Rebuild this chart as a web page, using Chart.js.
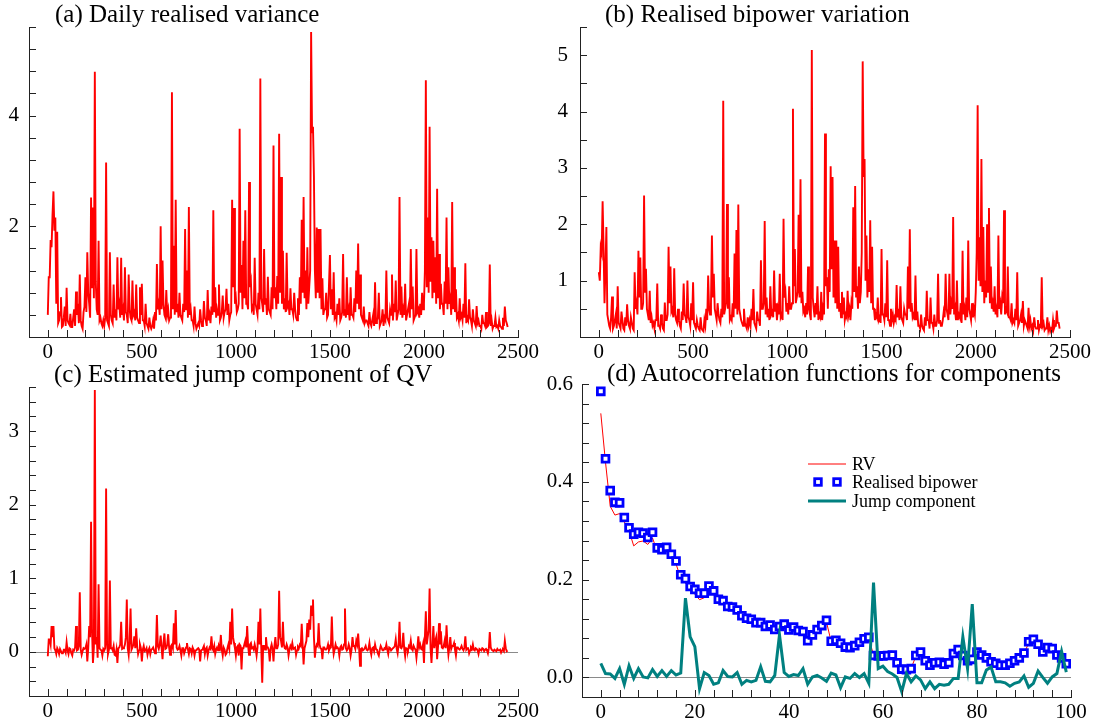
<!DOCTYPE html>
<html>
<head>
<meta charset="utf-8">
<script src="https://cdn.jsdelivr.net/npm/chart.js@4.4.1/dist/chart.umd.min.js"></script>
<style>
  body { margin: 0; background: #fff; width: 1097px; height: 728px; overflow: hidden; position: relative;
         font-family: "Liberation Serif", "DejaVu Serif", serif; color: #000; }
  canvas { position: absolute; }
  .title { position: absolute; font-size: 25px; line-height: 25px; white-space: nowrap; }
  .legend { position: absolute; left: 808px; top: 455px; font-size: 18px; line-height: 18.3px; }
  .legend div { display: flex; align-items: center; height: 18.3px; white-space: nowrap; }
  .legend svg { width: 44px; height: 18px; flex: none; }
</style>
</head>
<body>
<canvas id="chartRV" width="546" height="370" style="left:0;top:0"></canvas>
<canvas id="chartBV" width="546" height="370" style="left:551px;top:0"></canvas>
<canvas id="chartJump" width="546" height="369" style="left:0;top:360px"></canvas>
<canvas id="chartACF" width="570" height="370" style="left:525px;top:360px"></canvas>

<div class="title" style="left:55px;top:1px">(a) Daily realised variance</div>
<div class="title" style="left:605px;top:1px">(b) Realised bipower variation</div>
<div class="title" style="left:54px;top:361px">(c) Estimated jump component of QV</div>
<div class="title" style="left:607px;top:360px">(d) Autocorrelation functions for components</div>

<div class="legend">
  <div><svg viewBox="0 0 44 18"><line x1="0" y1="9" x2="38" y2="9" stroke="#ff0000" stroke-width="1"/></svg>RV</div>
  <div><svg viewBox="0 0 44 18"><rect x="6.7" y="5.7" width="6.6" height="6.6" fill="#fff" stroke="#0000ff" stroke-width="2.8"/><rect x="25.7" y="5.7" width="6.6" height="6.6" fill="#fff" stroke="#0000ff" stroke-width="2.8"/></svg>Realised bipower</div>
  <div><svg viewBox="0 0 44 18"><line x1="0" y1="9" x2="38" y2="9" stroke="#008080" stroke-width="3"/></svg>Jump component</div>
</div>

<script>
// trading days, one reading every 5 days (0, 5, 10, ... 2445)
const days = Array.from({length: 490}, (_, i) => i * 5);

// (a) daily realised variance: readings on days 0,10,20,... and on days 5,15,25,...
const rvEven = [
  0.4, 1.08, 1.62, 2.63, 2.16, 1.9, 0.3, 0.72, 0.2, 0.55,
  0.89, 0.25, 0.42, 0.18, 0.5, 0.82, 0.6, 1.13, 0.2, 0.45,
  1.08, 1.53, 0.6, 2.52, 2.34, 4.79, 0.5, 1.74, 0.35, 0.2,
  0.2, 3.15, 0.25, 1.53, 0.3, 0.95, 0.5, 1.44, 0.6, 1.43,
  0.5, 1.26, 0.4, 1.13, 0.35, 1.02, 0.45, 0.95, 0.3, 0.9,
  0.96, 0.3, 0.6, 0.2, 0.35, 0.15, 0.3, 0.45, 1.32, 0.6,
  2.0, 1.38, 0.4, 0.85, 0.5, 0.35, 4.42, 1.65, 2.48, 0.6,
  0.8, 0.35, 0.6, 1.95, 1.2, 2.35, 0.5, 0.3, 0.55, 0.15,
  0.25, 0.5, 0.2, 0.65, 0.3, 0.85, 0.4, 0.55, 2.29, 0.9,
  0.5, 0.95, 0.35, 0.75, 0.45, 0.87, 0.6, 0.4, 2.48, 2.33,
  0.7, 0.5, 3.76, 1.3, 1.74, 2.29, 0.6, 2.8, 1.0, 0.55,
  1.43, 0.5, 0.8, 4.67, 0.6, 1.59, 0.7, 1.09, 0.45, 0.9,
  3.46, 0.9, 1.1, 3.67, 2.89, 1.56, 0.7, 1.52, 0.6, 0.88,
  0.5, 0.8, 0.35, 0.7, 1.08, 2.12, 2.53, 1.2, 1.62, 0.9,
  5.51, 3.8, 1.2, 1.98, 1.95, 1.95, 1.06, 0.5, 0.8, 0.4,
  1.48, 0.86, 1.17, 0.4, 0.6, 0.7, 0.35, 1.5, 0.5, 1.08,
  0.5, 0.9, 0.4, 0.7, 1.2, 1.69, 1.13, 0.35, 0.55, 0.3,
  0.25, 0.45, 0.2, 0.4, 0.99, 0.3, 0.8, 0.25, 0.5, 0.35,
  1.2, 0.3, 0.5, 1.13, 0.6, 1.02, 0.4, 2.53, 0.91, 0.5,
  0.96, 0.4, 0.6, 1.59, 0.91, 0.35, 1.59, 0.5, 0.6, 0.8,
  0.6, 4.64, 2.16, 3.8, 1.8, 1.74, 1.44, 2.68, 1.5, 0.96,
  0.6, 1.0, 2.16, 1.26, 0.7, 2.44, 1.26, 0.86, 0.4, 0.7,
  0.4, 0.6, 1.33, 0.35, 0.68, 0.3, 0.5, 0.25, 0.56, 0.3,
  0.2, 0.4, 0.25, 0.45, 0.2, 1.31, 0.3, 0.2, 0.35, 0.2,
  0.3, 0.18, 0.35, 0.55, 0.25
];
const rvOdd = [
  1.08, 1.75, 2.2, 1.92, 0.6, 0.25, 0.45, 0.18, 0.35, 0.2,
  0.3, 0.22, 0.18, 0.35, 0.2, 0.4, 0.25, 0.3, 0.15, 0.55,
  0.45, 0.8, 0.35, 0.9, 0.7, 1.0, 0.4, 0.3, 0.25, 0.3,
  0.35, 0.3, 0.2, 0.4, 0.25, 0.35, 0.3, 0.5, 0.35, 0.4,
  0.3, 0.45, 0.25, 0.5, 0.3, 0.4, 0.3, 0.35, 0.25, 0.4,
  0.3, 0.2, 0.25, 0.15, 0.2, 0.2, 0.15, 0.3, 0.5, 0.4,
  0.5, 0.6, 0.35, 0.4, 0.3, 0.6, 0.5, 0.4, 0.45, 0.35,
  0.4, 0.3, 0.45, 0.5, 0.35, 0.4, 0.3, 0.2, 0.25, 0.2,
  0.2, 0.3, 0.25, 0.35, 0.2, 0.3, 0.25, 0.4, 0.45, 0.35,
  0.4, 0.3, 0.45, 0.35, 0.5, 0.4, 0.3, 0.45, 0.9, 0.6,
  0.45, 0.6, 0.8, 0.5, 0.7, 0.6, 0.5, 0.9, 0.5, 0.4,
  0.6, 0.4, 0.5, 0.7, 0.45, 0.6, 0.4, 0.5, 0.4, 0.5,
  0.7, 0.5, 0.6, 0.8, 0.6, 0.5, 0.45, 0.55, 0.4, 0.5,
  0.4, 0.5, 0.3, 0.4, 0.6, 0.8, 0.7, 0.5, 0.6, 1.2,
  3.7, 2.89, 0.7, 0.8, 0.7, 0.5, 0.4, 0.5, 0.35, 0.4,
  0.5, 0.4, 0.35, 0.3, 0.4, 0.3, 0.45, 0.4, 0.35, 0.4,
  0.3, 0.4, 0.35, 0.45, 0.6, 0.5, 0.4, 0.3, 0.25, 0.3,
  0.2, 0.25, 0.3, 0.2, 0.25, 0.35, 0.2, 0.3, 0.2, 0.3,
  0.35, 0.25, 0.4, 0.3, 0.45, 0.3, 0.5, 0.4, 0.35, 0.4,
  0.3, 0.4, 0.35, 0.5, 0.3, 0.4, 0.45, 0.35, 0.4, 0.5,
  1.2, 0.9, 0.8, 1.0, 0.7, 0.8, 0.6, 0.7, 0.5, 0.6,
  0.4, 0.6, 0.5, 0.6, 0.4, 0.5, 0.45, 0.35, 0.3, 0.35,
  0.3, 0.35, 0.25, 0.3, 0.35, 0.2, 0.3, 0.2, 0.25, 0.2,
  0.15, 0.25, 0.2, 0.18, 0.25, 0.2, 0.15, 0.2, 0.18, 0.15,
  0.2, 0.15, 0.2, 0.3, 0.18
];

// (b) realised bipower variation
const bvEven = [
  1.15, 1.59, 2.41, 0.6, 1.95, 0.3, 0.15, 0.72, 0.2, 0.4,
  0.9, 0.2, 0.45, 0.15, 0.35, 0.58, 0.2, 0.35, 0.15, 1.15,
  0.6, 1.53, 1.41, 0.5, 2.51, 1.21, 0.4, 0.82, 0.35, 0.25,
  0.3, 0.95, 0.2, 0.4, 0.15, 0.61, 0.3, 1.6, 1.25, 0.5,
  1.22, 0.3, 0.5, 0.2, 0.45, 0.95, 0.35, 1.0, 0.3, 0.6,
  0.97, 0.2, 0.3, 0.15, 0.35, 0.12, 0.3, 0.5, 1.09, 0.4,
  1.8, 1.12, 0.4, 0.6, 0.3, 0.5, 4.19, 0.5, 2.36, 1.06,
  0.35, 0.6, 1.48, 1.9, 2.35, 0.4, 0.25, 0.5, 0.2, 0.35,
  0.3, 0.5, 0.85, 0.2, 0.45, 0.3, 1.36, 0.5, 2.06, 0.7,
  0.5, 0.9, 0.45, 1.18, 0.6, 0.5, 1.12, 0.4, 2.1, 0.8,
  0.6, 0.9, 0.5, 4.05, 1.56, 0.7, 2.17, 2.8, 0.8, 0.5,
  0.6, 1.25, 0.4, 5.09, 0.5, 0.6, 0.9, 0.4, 0.8, 0.5,
  3.61, 1.06, 1.2, 3.03, 2.84, 1.71, 1.71, 1.6, 0.6, 0.8,
  0.7, 0.4, 0.82, 0.5, 0.6, 2.3, 2.68, 0.9, 1.25, 0.8,
  4.89, 3.16, 1.8, 1.2, 2.07, 1.6, 0.5, 0.4, 0.7, 0.35,
  1.56, 0.4, 0.6, 1.36, 0.3, 0.5, 0.4, 0.35, 0.92, 0.5,
  0.9, 0.3, 0.5, 0.4, 1.25, 1.91, 0.6, 0.4, 1.09, 0.45,
  0.2, 0.4, 0.15, 0.35, 0.82, 0.3, 0.7, 0.25, 0.4, 0.2,
  1.12, 0.3, 0.2, 0.45, 1.12, 0.4, 1.12, 0.6, 2.13, 0.5,
  1.0, 0.4, 0.6, 1.53, 0.5, 0.7, 1.71, 0.4, 0.6, 0.5,
  0.8, 4.11, 1.77, 3.16, 1.95, 1.0, 2.0, 2.29, 1.25, 0.6,
  0.9, 0.5, 1.8, 0.6, 0.7, 2.25, 0.5, 1.25, 0.35, 0.6,
  0.3, 0.5, 1.15, 0.25, 0.4, 0.64, 0.3, 0.2, 0.52, 0.3,
  0.2, 0.35, 0.15, 0.3, 0.2, 1.06, 0.25, 0.15, 0.35, 0.2,
  0.15, 0.3, 0.2, 0.47, 0.25
];
const bvOdd = [
  1.0, 1.5, 1.6, 1.2, 0.4, 0.2, 0.35, 0.15, 0.3, 0.15,
  0.25, 0.15, 0.3, 0.12, 0.2, 0.3, 0.15, 0.25, 0.12, 0.5,
  0.4, 0.7, 0.5, 0.6, 0.8, 0.5, 0.3, 0.25, 0.2, 0.15,
  0.3, 0.2, 0.15, 0.25, 0.12, 0.3, 0.4, 0.6, 0.45, 0.35,
  0.4, 0.25, 0.3, 0.15, 0.3, 0.4, 0.25, 0.35, 0.2, 0.3,
  0.25, 0.15, 0.2, 0.12, 0.15, 0.1, 0.2, 0.3, 0.5, 0.6,
  0.7, 0.5, 0.3, 0.4, 0.25, 0.35, 0.4, 0.6, 0.5, 0.3,
  0.3, 0.35, 0.5, 0.4, 0.5, 0.3, 0.2, 0.25, 0.15, 0.2,
  0.2, 0.3, 0.25, 0.15, 0.3, 0.2, 0.5, 0.6, 0.4, 0.35,
  0.3, 0.4, 0.35, 0.45, 0.3, 0.4, 0.35, 0.3, 0.7, 0.45,
  0.4, 0.5, 0.6, 0.9, 0.6, 0.8, 0.7, 0.6, 0.45, 0.35,
  0.4, 0.5, 0.3, 0.7, 0.35, 0.4, 0.3, 0.35, 0.3, 0.4,
  0.9, 0.5, 0.8, 1.2, 0.7, 0.6, 0.5, 0.45, 0.35, 0.4,
  0.3, 0.35, 0.4, 0.3, 0.5, 0.8, 0.7, 0.5, 0.6, 1.5,
  2.84, 1.0, 0.7, 0.8, 0.6, 0.5, 0.3, 0.35, 0.3, 0.25,
  0.4, 0.3, 0.35, 0.3, 0.2, 0.3, 0.25, 0.3, 0.35, 0.3,
  0.35, 0.25, 0.4, 0.3, 0.5, 0.45, 0.35, 0.3, 0.3, 0.2,
  0.15, 0.2, 0.12, 0.2, 0.3, 0.15, 0.25, 0.15, 0.2, 0.3,
  0.25, 0.2, 0.3, 0.35, 0.5, 0.3, 0.4, 0.5, 0.4, 0.3,
  0.3, 0.35, 0.25, 0.4, 0.3, 0.35, 0.5, 0.3, 0.35, 0.4,
  1.5, 1.0, 0.9, 0.8, 0.6, 0.7, 0.8, 0.6, 0.5, 0.45,
  0.4, 0.35, 0.5, 0.4, 0.6, 0.4, 0.45, 0.35, 0.3, 0.25,
  0.25, 0.3, 0.2, 0.3, 0.25, 0.2, 0.25, 0.15, 0.2, 0.15,
  0.12, 0.2, 0.15, 0.12, 0.18, 0.2, 0.12, 0.15, 0.12, 0.1,
  0.12, 0.15, 0.2, 0.25, 0.15
];

// (c) estimated jump component of QV
const jumpEven = [
  -0.06, 0.17, 0.35, 0.35, 0.02, 0.05, -0.03, 0.04, -0.02, 0.03,
  0.13, -0.03, 0.04, -0.05, 0.02, 0.35, 0.03, 0.81, -0.04, 0.05,
  0.05, -0.13, 0.35, 1.77, -0.15, 3.56, 0.2, 0.92, 0.03, -0.05,
  0.02, 2.22, -0.03, 0.97, 0.05, 0.08, -0.05, -0.15, 0.06, 0.41,
  0.05, 0.1, 0.71, -0.04, 0.59, 0.06, 0.21, 0.32, -0.03, 0.1,
  -0.13, 0.08, 0.02, -0.04, 0.05, 0.03, 0.06, -0.02, 0.5, 0.04,
  0.22, -0.1, 0.25, 0.05, 0.24, -0.04, 0.1, 0.39, 0.57, 0.03,
  0.08, -0.05, 0.05, 0.02, 0.12, -0.03, 0.04, 0.06, -0.05, 0.02,
  0.05, -0.13, 0.03, 0.08, 0.04, -0.05, 0.06, 0.21, 0.02, -0.03,
  0.06, 0.08, 0.23, -0.05, 0.03, -0.02, 0.1, 0.41, 0.59, 0.12,
  -0.05, 0.08, 0.1, -0.24, 0.05, 0.15, 0.35, -0.04, 0.12, 0.06,
  0.1, -0.05, 0.41, 0.59, -0.42, 0.08, 0.2, 0.06, -0.13, 0.1,
  -0.13, 0.2, 0.05, 0.83, 0.15, 0.41, 0.05, 0.1, -0.05, 0.08,
  0.12, 0.05, -0.04, 0.07, 0.1, 0.38, -0.17, 0.1, 0.39, 0.44,
  0.63, 0.71, -0.08, 0.1, 0.39, 0.05, -0.1, 0.06, 0.03, 0.1,
  0.05, 0.48, -0.03, 0.1, 0.06, -0.05, 0.08, 0.04, 0.59, 0.02,
  0.1, -0.05, 0.2, 0.08, 0.15, 0.25, -0.19, 0.05, 0.03, 0.08,
  0.02, 0.12, -0.04, 0.06, 0.1, 0.03, -0.05, 0.08, 0.02, 0.05,
  0.1, -0.03, 0.05, 0.02, 0.06, 0.17, -0.02, 0.41, 0.05, 0.26,
  -0.06, 0.04, 0.08, 0.15, 0.02, 0.05, -0.08, 0.21, 0.1, 0.03,
  -0.15, 0.55, 0.2, 0.86, -0.15, 0.35, 0.15, -0.1, 0.39, 0.28,
  0.05, 0.15, 0.36, -0.04, 0.2, 0.08, 0.12, -0.05, 0.06, 0.03,
  0.08, 0.02, 0.21, 0.05, -0.02, 0.06, 0.1, 0.02, 0.04, -0.03,
  0.03, 0.05, 0.01, 0.04, -0.02, 0.27, 0.03, 0.01, 0.02, 0.04,
  0.02, -0.01, 0.03, 0.15, 0.01
];
const jumpOdd = [
  0.17, 0.1, 0.2, 0.05, -0.03, 0.02, 0.04, -0.02, 0.03, -0.01,
  0.02, 0.05, -0.02, 0.03, 0.06, 0.02, 0.08, 0.03, 0.01, 0.04,
  0.1, 0.05, 0.2, 0.3, 0.06, 0.1, -0.08, 0.05, 0.02, 0.04,
  0.05, 0.1, 0.03, 0.05, 0.02, -0.04, 0.03, 0.05, 0.1, 0.04,
  0.06, 0.2, 0.05, 0.15, 0.03, 0.1, 0.05, 0.08, 0.02, 0.05,
  0.03, 0.01, 0.05, 0.02, -0.03, 0.04, 0.02, 0.05, 0.08, 0.1,
  0.05, 0.12, 0.04, 0.1, 0.06, 0.08, 0.05, 0.1, 0.06, 0.04,
  0.02, 0.05, -0.02, 0.06, 0.03, 0.05, -0.02, 0.03, 0.02, 0.04,
  0.03, 0.02, 0.05, -0.03, 0.06, 0.02, 0.04, 0.05, 0.08, 0.03,
  0.02, 0.05, 0.03, 0.06, -0.04, 0.05, 0.04, 0.1, 0.2, 0.05,
  0.06, -0.05, 0.08, 0.05, 0.1, 0.06, 0.08, 0.1, 0.05, 0.03,
  0.04, 0.06, 0.1, 0.05, 0.08, 0.03, 0.06, 0.02, 0.05, 0.04,
  0.08, 0.05, 0.1, 0.2, 0.06, 0.1, 0.04, 0.06, 0.03, 0.05,
  0.04, 0.06, 0.02, 0.05, 0.08, 0.1, 0.05, 0.15, 0.2, 0.3,
  0.5, 0.2, 0.05, 0.08, 0.1, 0.04, 0.06, 0.03, 0.05, 0.02,
  0.06, 0.1, 0.03, 0.05, 0.04, 0.06, 0.03, 0.1, 0.05, 0.04,
  0.05, 0.03, 0.08, 0.04, 0.1, 0.06, 0.04, 0.02, 0.05, 0.03,
  0.04, 0.02, 0.05, 0.01, 0.04, -0.02, 0.03, 0.05, 0.02, 0.04,
  0.03, 0.06, 0.02, 0.05, 0.08, 0.04, 0.1, 0.06, 0.08, 0.04,
  0.05, 0.02, 0.06, 0.04, 0.08, 0.03, 0.05, 0.06, 0.04, 0.1,
  0.2, 0.1, 0.3, 0.05, 0.1, 0.05, 0.2, 0.08, 0.1, 0.06,
  0.08, 0.05, 0.1, 0.06, 0.04, 0.08, 0.03, 0.06, 0.04, 0.05,
  0.04, 0.06, 0.03, 0.05, 0.02, 0.04, 0.03, 0.05, 0.02, 0.04,
  0.02, 0.04, 0.03, 0.02, 0.05, 0.06, 0.02, 0.03, 0.01, 0.02,
  0.03, 0.02, 0.01, 0.05, 0.02
];

// (d) autocorrelations, lags 0..99
const lags = Array.from({length: 100}, (_, i) => i);
const acfRV = [
  0.54, 0.44, 0.35, 0.332, 0.335, 0.318, 0.300, 0.269, 0.277, 0.279,
  0.272, 0.285, 0.258, 0.256, 0.258, 0.250, 0.232, 0.203, 0.193, 0.180,
  0.170, 0.159, 0.163, 0.176, 0.170, 0.153, 0.150, 0.140, 0.137, 0.130,
  0.118, 0.114, 0.112, 0.108, 0.108, 0.098, 0.101, 0.093, 0.099, 0.104,
  0.093, 0.098, 0.092, 0.089, 0.072, 0.083, 0.094, 0.103, 0.113, 0.073,
  0.074, 0.068, 0.061, 0.060, 0.064, 0.070, 0.077, 0.080, 0.046, 0.043,
  0.043, 0.044, 0.044, 0.030, 0.017, 0.016, 0.019, 0.043, 0.050, 0.033,
  0.025, 0.028, 0.030, 0.025, 0.028, 0.048, 0.056, 0.045, 0.035, 0.038,
  0.050, 0.045, 0.040, 0.031, 0.028, 0.024, 0.024, 0.028, 0.033, 0.039,
  0.049, 0.070, 0.076, 0.066, 0.050, 0.059, 0.057, 0.045, 0.038, 0.027
];
const acfBV = [
  0.585, 0.447, 0.382, 0.358, 0.357, 0.327, 0.306, 0.293, 0.297, 0.295,
  0.286, 0.297, 0.265, 0.261, 0.266, 0.252, 0.238, 0.210, 0.202, 0.186,
  0.180, 0.172, 0.172, 0.187, 0.177, 0.160, 0.157, 0.145, 0.144, 0.138,
  0.126, 0.121, 0.119, 0.112, 0.112, 0.104, 0.107, 0.098, 0.104, 0.109,
  0.097, 0.103, 0.096, 0.094, 0.075, 0.087, 0.098, 0.106, 0.117, 0.074,
  0.076, 0.070, 0.062, 0.061, 0.065, 0.072, 0.079, 0.082, 0.045, 0.044,
  0.044, 0.045, 0.046, 0.030, 0.017, 0.016, 0.018, 0.045, 0.052, 0.034,
  0.025, 0.030, 0.031, 0.027, 0.030, 0.049, 0.057, 0.045, 0.034, 0.037,
  0.052, 0.046, 0.040, 0.032, 0.029, 0.025, 0.025, 0.029, 0.034, 0.040,
  0.050, 0.073, 0.078, 0.068, 0.052, 0.061, 0.059, 0.046, 0.040, 0.028
];
const acfJump = [
  0.029, 0.008, 0.007, -0.002, 0.018, -0.014, 0.024, -0.002, 0.018, 0.001,
  -0.001, 0.016, 0.002, 0.014, 0.002, 0.014, 0.005, 0.009, 0.162, 0.083,
  0.063, -0.023, 0.010, 0.004, -0.014, -0.011, 0.014, 0.002, 0.001, 0.010,
  -0.014, -0.006, -0.009, -0.006, 0.022, -0.008, -0.009, 0.004, 0.087, 0.010,
  0.002, 0.006, 0.004, 0.018, -0.014, 0.001, 0.004, -0.001, -0.008, 0.009,
  0.005, -0.021, 0.001, -0.002, 0.008, 0.000, 0.008, -0.012, 0.194, 0.018,
  0.023, 0.012, 0.007, 0.000, -0.029, 0.008, -0.009, 0.003, -0.005, -0.023,
  -0.009, -0.023, -0.014, -0.016, -0.014, -0.002, -0.002, 0.083, 0.018, 0.150,
  -0.011, -0.011, 0.015, 0.021, -0.009, -0.009, -0.011, -0.018, -0.012, -0.009,
  0.003, -0.020, -0.012, 0.013, 0.000, -0.012, 0.001, 0.008, 0.053, 0.011
];

// labelled ticks
const dayLabels = [0, 500, 1000, 1500, 2000, 2500];
const lagLabels = [0, 20, 40, 60, 80, 100];
const rvLabels = [2, 4];
const bvLabels = [1, 2, 3, 4, 5];
const jumpLabels = [0, 1, 2, 3];
const acfLabels = [0, 0.2, 0.4, 0.6];

const tickFont = { family: '"Liberation Serif", serif', size: 21 };

// inward tick marks and the grey zero line
const frame = {
  id: 'frame',
  beforeDatasetsDraw(chart, args, opts) {
    if (!opts.zero) return;
    const { ctx, chartArea: a, scales: { y } } = chart;
    const py = Math.round(y.getPixelForValue(0)) + 0.5;
    ctx.save();
    ctx.strokeStyle = '#8a8a8a';
    ctx.lineWidth = 1;
    ctx.beginPath();
    ctx.moveTo(a.left, py);
    ctx.lineTo(a.right, py);
    ctx.stroke();
    ctx.restore();
  },
  afterDraw(chart) {
    const { ctx, chartArea: a, scales: { x, y } } = chart;
    ctx.save();
    ctx.strokeStyle = '#222';
    ctx.lineWidth = 1;
    ctx.beginPath();
    x.ticks.forEach(t => {
      const px = Math.round(x.getPixelForValue(t.value)) + 0.5;
      ctx.moveTo(px, a.bottom);
      ctx.lineTo(px, a.bottom - 7);
    });
    y.ticks.forEach(t => {
      const py = Math.round(y.getPixelForValue(t.value)) + 0.5;
      ctx.moveTo(a.left, py);
      ctx.lineTo(a.left + 7, py);
    });
    ctx.stroke();
    ctx.restore();
  }
};

function pick(v, list, fmt) {
  return list.some(l => Math.abs(l - v) < 1e-6) ? fmt(v) : '';
}

function panel(id, datasets, o) {
  return new Chart(document.getElementById(id), {
    type: 'line',
    data: { datasets },
    options: {
      responsive: false,
      animation: false,
      events: [],
      layout: { padding: { top: o.top, right: o.right, left: 0, bottom: 0 } },
      plugins: { legend: { display: false }, tooltip: { enabled: false }, frame: { zero: o.zero } },
      scales: {
        x: {
          type: 'linear', min: o.x[0], max: o.x[1],
          grid: { display: false, drawTicks: false },
          border: { color: '#222', width: 1 },
          ticks: { stepSize: o.x[2], autoSkip: false, maxRotation: 0, minRotation: 0, padding: 3,
                   color: '#000', font: tickFont,
                   callback: v => pick(v, o.xLabels, n => String(Math.round(n))) },
          afterFit: s => { s.height = 33; }
        },
        y: {
          type: 'linear', min: o.y[0], max: o.y[1],
          grid: { display: false, drawTicks: false },
          border: { color: '#222', width: 1 },
          ticks: { stepSize: o.y[2], autoSkip: false, padding: o.ypad, color: '#000', font: tickFont,
                   callback: v => pick(v, o.yLabels, o.yFmt) },
          afterFit: s => { s.width = o.yw; }
        }
      }
    },
    plugins: [frame]
  });
}

const series = (xs, ys) => xs.map((d, i) => ({ x: d, y: ys[i] }));
const merge = (even, odd) => even.flatMap((v, i) => [v, odd[i]]);
const redLine = values => ({ data: series(days, values), borderColor: '#ff0000', borderWidth: 1.9,
                             pointRadius: 0, tension: 0 });
const intFmt = n => String(Math.round(n));

panel('chartRV', [redLine(merge(rvEven, rvOdd))], {
  top: 27, right: 28, x: [-100, 2500, 100], y: [0, 5.6, 0.4], yw: 29,
  xLabels: dayLabels, yLabels: rvLabels, yFmt: intFmt, ypad: 10, zero: false
});

panel('chartBV', [redLine(merge(bvEven, bvOdd))], {
  top: 27, right: 27, x: [-100, 2500, 100], y: [0, 5.5, 0.5], yw: 29,
  xLabels: dayLabels, yLabels: bvLabels, yFmt: intFmt, ypad: 12, zero: false
});

panel('chartJump', [redLine(merge(jumpEven, jumpOdd))], {
  top: 27, right: 28, x: [-100, 2500, 100], y: [-0.6, 3.6, 0.2], yw: 29,
  xLabels: dayLabels, yLabels: jumpLabels, yFmt: intFmt, ypad: 10, zero: true
});

panel('chartACF', [
  { label: 'RV', data: series(lags, acfRV), borderColor: '#ff0000', borderWidth: 1,
    pointRadius: 0, tension: 0, order: 3 },
  { label: 'Realised bipower', data: series(lags, acfBV), showLine: false, pointStyle: 'rect',
    pointRadius: 4.8, pointBorderWidth: 2.8, pointBorderColor: '#0000ff', pointBackgroundColor: '#fff',
    borderColor: '#0000ff', order: 2 },
  { label: 'Jump component', data: series(lags, acfJump), borderColor: '#008080', borderWidth: 3,
    pointRadius: 0, tension: 0, order: 1 }
], {
  top: 24, right: 24, x: [-4, 100, 4], y: [-0.04, 0.6, 0.04], yw: 57,
  xLabels: lagLabels, yLabels: acfLabels, yFmt: n => n.toFixed(1), ypad: 9, zero: true
});
</script>
</body>
</html>
